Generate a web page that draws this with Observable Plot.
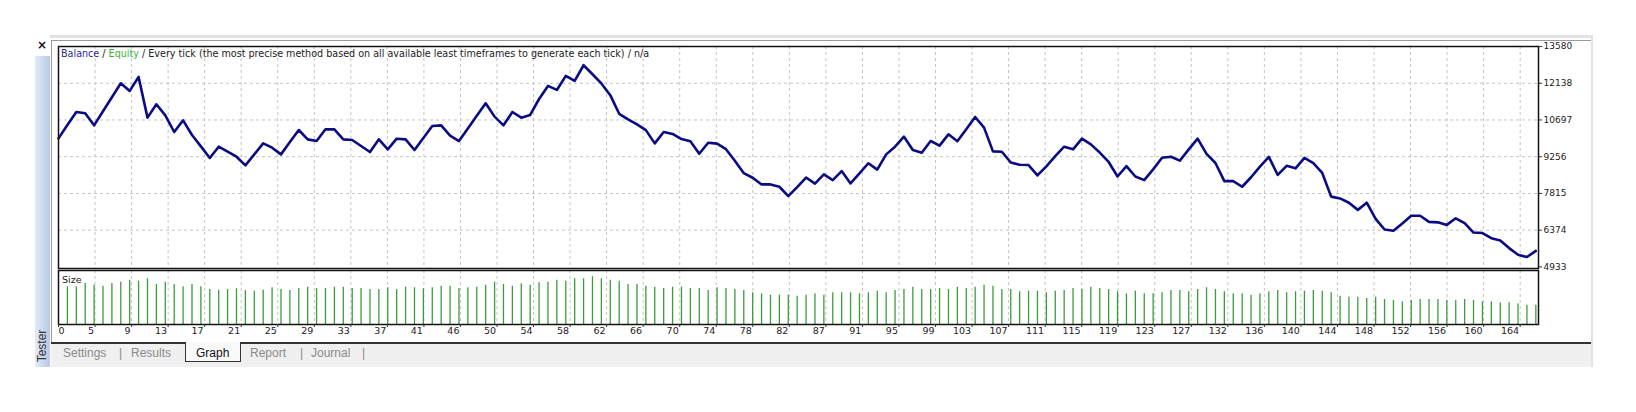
<!DOCTYPE html>
<html>
<head>
<meta charset="utf-8">
<script src="https://cdn.jsdelivr.net/npm/d3@7"></script>
<script src="https://cdn.jsdelivr.net/npm/@observablehq/plot@0.6"></script>
<style>
  html, body { margin: 0; padding: 0; background: #fff; }
  #wrap { position: relative; width: 1636px; height: 412px; overflow: hidden; background: #fff; font-family: "DejaVu Sans", sans-serif; }
  .abs { position: absolute; }
  #wrap svg { position: absolute; left: 0; top: 0; }
  .tab { position: absolute; top: 346px; font: 12px "Liberation Sans", sans-serif; color: #8a8a8a; }
</style>
</head>
<body>
<div id="wrap">
  <!-- window chrome -->
  <div class="abs" style="left:50px;top:35px;width:1543px;height:3px;background:#e2e2e2"></div>
  <div class="abs" style="left:1591px;top:35px;width:2px;height:332px;background:#e2e2e2"></div>
  <div class="abs" style="left:51px;top:40px;width:1540px;height:1px;background:#9a9a9a"></div>
  <div class="abs" style="left:51px;top:40px;width:1px;height:303px;background:#9a9a9a"></div>
  <div class="abs" style="left:35px;top:56px;width:15px;height:311px;background:linear-gradient(to right,#e3ebf7,#b7c9e5)"></div>
  <div class="abs" style="left:37px;top:38px;font:bold 12px 'DejaVu Sans',sans-serif;color:#111">×</div>
  <div class="abs" style="left:22px;top:339px;width:40px;height:14px;transform:rotate(-90deg);font:12px 'Liberation Sans',sans-serif;color:#333;text-align:center">Tester</div>
  <!-- tabs -->
  <div class="abs" style="left:51px;top:343px;width:1540px;height:24px;background:#f0f0f0"></div>
  <div class="abs" style="left:51px;top:342px;width:1540px;height:1.5px;background:#333"></div>
  <div class="abs" style="left:185px;top:342px;width:54px;height:19px;background:#fafafa;border:1px solid #333;border-top:none"></div>
  <div class="tab" style="left:63px">Settings</div>
  <div class="tab" style="left:119px">|</div>
  <div class="tab" style="left:131px">Results</div>
  <div class="tab" style="left:196px;color:#111">Graph</div>
  <div class="tab" style="left:250px">Report</div>
  <div class="tab" style="left:300px">|</div>
  <div class="tab" style="left:311px">Journal</div>
  <div class="tab" style="left:362px">|</div>
  <!-- titles -->
  <div class="abs" id="title" style="left:61px;top:48px;font:9.6px 'DejaVu Sans',sans-serif;color:#222;white-space:nowrap;z-index:3">
    <span style="color:#2a2a8e">Balance</span> / <span style="color:#3cb43c">Equity</span> / Every tick (the most precise method based on all available least timeframes to generate each tick) / n/a
  </div>
  <div class="abs" style="left:62px;top:274px;font:9.5px 'DejaVu Sans',sans-serif;color:#222;z-index:3">Size</div>
</div>
<script>
// ---- data ----
const balance = [
  9976, 10500, 11011, 10959, 10487, 11038, 11588, 12138, 11837, 12387,
  10789, 11313, 10880, 10225, 10684, 10108, 9662, 9204, 9649, 9452,
  9256, 8915, 9348, 9780, 9610, 9348, 9832, 10304, 9937, 9872,
  10330, 10330, 9937, 9911, 9675, 9439, 9937, 9544, 9963, 9937,
  9518, 9990, 10461, 10487, 10080, 9872, 10365, 10859, 11352, 10828,
  10487, 11011, 10789, 10894, 11520, 12033, 11876, 12426, 12230, 12845,
  12492, 12130, 11670, 10940, 10723, 10527, 10300, 9780, 10225, 10150,
  9950, 9860, 9370, 9806, 9770, 9550, 9100, 8610, 8431, 8169,
  8169, 8077, 7710, 8060, 8440, 8200, 8562, 8339, 8693, 8208,
  8600, 9000, 8750, 9348, 9649, 10042, 9518, 9413, 9872, 9690,
  10134, 9860, 10330, 10815, 10396, 9465, 9452, 9030, 8940, 8928,
  8522, 8880, 9280, 9649, 9544, 9963, 9741, 9420, 9050, 8480,
  8889, 8480, 8339, 8758, 9217, 9256, 9100, 9544, 9963, 9370,
  9010, 8300, 8300, 8077, 8450, 8870, 9250, 8540, 8900, 8800,
  9210, 9000, 8620, 7690, 7620, 7450, 7170, 7450, 6820, 6400,
  6350, 6640, 6940, 6940, 6700, 6680, 6580, 6840, 6650, 6280,
  6260, 6060, 5970, 5670, 5410, 5320, 5560
];
// trade sizes, trades 1..166
const sizes = [
  0.377,0.377,0.410,0.393,0.383,0.410,0.423,0.443,0.433,0.457,
  0.400,0.423,0.400,0.377,0.400,0.377,0.350,0.343,0.350,0.357,
  0.340,0.333,0.343,0.367,0.350,0.340,0.360,0.373,0.360,0.360,
  0.373,0.373,0.360,0.360,0.350,0.350,0.367,0.350,0.373,0.367,
  0.357,0.367,0.383,0.383,0.360,0.367,0.373,0.393,0.423,0.400,
  0.383,0.407,0.393,0.417,0.423,0.443,0.433,0.457,0.457,0.477,
  0.457,0.443,0.433,0.400,0.400,0.383,0.373,0.360,0.373,0.373,
  0.360,0.360,0.340,0.367,0.360,0.350,0.340,0.317,0.307,0.293,
  0.293,0.293,0.283,0.293,0.307,0.293,0.317,0.317,0.317,0.307,
  0.317,0.333,0.317,0.340,0.350,0.373,0.350,0.350,0.360,0.350,
  0.373,0.360,0.373,0.393,0.383,0.350,0.350,0.327,0.333,0.333,
  0.317,0.333,0.340,0.360,0.350,0.373,0.360,0.350,0.327,0.307,
  0.333,0.307,0.307,0.317,0.340,0.340,0.327,0.350,0.367,0.350,
  0.327,0.307,0.307,0.293,0.307,0.327,0.340,0.317,0.327,0.333,
  0.340,0.333,0.317,0.283,0.273,0.273,0.260,0.273,0.250,0.240,
  0.227,0.240,0.250,0.250,0.250,0.240,0.240,0.250,0.240,0.227,
  0.227,0.217,0.217,0.207,0.193,0.193
];
const yTicks = [13580, 12138, 10697, 9256, 7815, 6374, 4933];
const xTickLabels = [0,5,9,13,17,21,25,29,33,37,41,46,50,54,58,62,66,70,74,78,82,87,91,95,99,103,107,111,115,119,123,127,132,136,140,144,148,152,156,160,164];

// ---- layout helpers ----
const gridStep = 4.106; // trades per grid cell (grid is evenly spaced in pixels)
const xTicks = xTickLabels.map((label, k) => ({pos: k * gridStep, label: String(label)}));
const xDomain = [0, 166.3];
const W = 1636, ML = 58, MR = 98;
const gridStyle = {stroke: "#c4c4c4", strokeWidth: 1, strokeDasharray: "3,3"};

const balanceData = balance.map((v, i) => ({i, v}));
const sizeData = sizes.map((s, k) => ({i: k + 1, s}));

const main = Plot.plot({
  width: W, height: 270,
  marginTop: 46, marginBottom: 2, marginLeft: ML, marginRight: MR,
  x: {domain: xDomain, axis: null, label: null},
  y: {domain: [4870, 13580], axis: null, label: null},
  style: {background: "transparent", overflow: "visible", fontFamily: "DejaVu Sans", fontSize: "9px", color: "#222"},
  marks: [
    Plot.ruleY(yTicks.slice(1, -1), gridStyle),
    Plot.ruleX(xTicks.slice(1), {x: "pos", ...gridStyle}),
    Plot.line(balanceData, {x: "i", y: "v", stroke: "#0b0b82", strokeWidth: 2.6, strokeLinejoin: "round"}),
    Plot.frame({stroke: "#111", strokeWidth: 1.5}),
    Plot.axisY(yTicks, {anchor: "right", label: null, tickSize: 3, tickPadding: 2, tickFormat: d => String(d), fontSize: 9, stroke: "#333", fill: "#222"})
  ]
});

const sizePanel = Plot.plot({
  width: W, height: 343,
  marginTop: 270, marginBottom: 19, marginLeft: ML, marginRight: MR,
  x: {domain: xDomain, axis: null, label: null},
  y: {domain: [0, 0.54], axis: null, label: null},
  style: {background: "transparent", overflow: "visible", fontFamily: "DejaVu Sans", fontSize: "9px", color: "#222"},
  marks: [
    Plot.ruleX(xTicks.slice(1), {x: "pos", ...gridStyle}),
    Plot.ruleX(sizeData, {x: "i", y1: 0, y2: "s", stroke: "#3c9c3c", strokeWidth: 1.3}),
    Plot.frame({stroke: "#111", strokeWidth: 1.5}),
    Plot.axisX(xTicks.map(d => d.pos), {anchor: "bottom", label: null, tickSize: 3, tickFormat: () => "", stroke: "#333"}),
    Plot.text(xTicks.slice(0, 1), {x: "pos", text: "label", frameAnchor: "bottom", dy: 9, dx: 0, textAnchor: "start", fill: "#222", fontSize: 9.5}),
    Plot.text(xTicks.slice(1), {x: "pos", text: "label", frameAnchor: "bottom", dy: 9, dx: -1, textAnchor: "end", fill: "#222", fontSize: 9.5})
  ]
});

const wrap = document.getElementById("wrap");
wrap.appendChild(main);
wrap.appendChild(sizePanel);
</script>
</body>
</html>
